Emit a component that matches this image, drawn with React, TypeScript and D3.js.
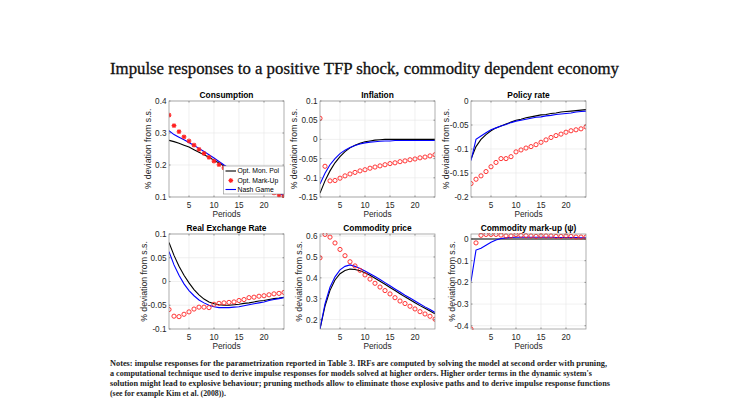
import * as d3 from "d3"

// periods on the horizontal axis
const periods = [1, 2, 3, 4, 5, 6, 7, 8, 9, 10, 11, 12, 13, 14, 15, 16, 17, 18, 19, 20, 21, 22, 23, 24]

// Consumption
const consOpt = [0.277, 0.273, 0.268, 0.262, 0.256, 0.248, 0.24, 0.232, 0.224, 0.215, 0.206, 0.197, 0.188, 0.179, 0.17, 0.162, 0.154, 0.146, 0.138, 0.131, 0.124, 0.117, 0.111, 0.105]
const consMarkup = [0.356, 0.323, 0.304, 0.288, 0.275, 0.262, 0.249, 0.236, 0.224, 0.212, 0.201, 0.191, 0.181, 0.172, 0.163, 0.155, 0.147, 0.14, 0.133, 0.126, 0.119, 0.113, 0.107, 0.102]
const consNash = [0.307, 0.295, 0.287, 0.279, 0.27, 0.261, 0.252, 0.242, 0.232, 0.222, 0.211, 0.2, 0.19, 0.18, 0.171, 0.162, 0.154, 0.146, 0.138, 0.131, 0.124, 0.117, 0.111, 0.105]

// Inflation
const inflOpt = [-0.14, -0.108, -0.082, -0.061, -0.045, -0.032, -0.022, -0.015, -0.01, -0.006, -0.004, -0.002, -0.001, 0, 0, 0, 0, 0, 0, 0, 0, 0, 0, 0]
const inflMarkup = [0.055, -0.07, -0.108, -0.107, -0.101, -0.095, -0.09, -0.086, -0.082, -0.079, -0.075, -0.072, -0.069, -0.066, -0.063, -0.061, -0.058, -0.056, -0.053, -0.051, -0.048, -0.046, -0.043, -0.04]
const inflNash = [-0.116, -0.088, -0.066, -0.05, -0.037, -0.028, -0.021, -0.016, -0.012, -0.009, -0.007, -0.006, -0.005, -0.004, -0.004, -0.003, -0.003, -0.003, -0.003, -0.003, -0.003, -0.003, -0.003, -0.003]

// Policy rate
const rateOpt = [-0.121, -0.095, -0.08, -0.07, -0.062, -0.056, -0.052, -0.048, -0.044, -0.04, -0.038, -0.035, -0.033, -0.031, -0.029, -0.028, -0.026, -0.025, -0.023, -0.022, -0.021, -0.02, -0.019, -0.018]
const rateMarkup = [-0.172, -0.163, -0.156, -0.147, -0.137, -0.128, -0.12, -0.12, -0.116, -0.106, -0.102, -0.098, -0.095, -0.091, -0.086, -0.081, -0.076, -0.072, -0.069, -0.065, -0.062, -0.06, -0.058, -0.054]
const rateNash = [-0.124, -0.08, -0.073, -0.066, -0.06, -0.056, -0.052, -0.049, -0.045, -0.042, -0.04, -0.038, -0.036, -0.034, -0.033, -0.031, -0.03, -0.028, -0.027, -0.026, -0.025, -0.023, -0.022, -0.021]

// Real exchange rate
const rerOpt = [0.082, 0.055, 0.032, 0.013, -0.003, -0.017, -0.028, -0.037, -0.043, -0.047, -0.049, -0.05, -0.05, -0.049, -0.048, -0.046, -0.045, -0.043, -0.041, -0.04, -0.038, -0.036, -0.035, -0.033]
const rerMarkup = [-0.059, -0.073, -0.074, -0.069, -0.064, -0.058, -0.054, -0.054, -0.055, -0.048, -0.046, -0.045, -0.044, -0.043, -0.04, -0.038, -0.034, -0.033, -0.031, -0.03, -0.028, -0.026, -0.025, -0.023]
const rerNash = [0.063, 0.035, 0.013, -0.005, -0.019, -0.03, -0.039, -0.045, -0.05, -0.053, -0.055, -0.055, -0.055, -0.054, -0.053, -0.051, -0.049, -0.047, -0.045, -0.043, -0.04, -0.038, -0.036, -0.034]

// Commodity price
const priceOpt = [0.155, 0.265, 0.34, 0.39, 0.42, 0.435, 0.442, 0.44, 0.434, 0.424, 0.412, 0.398, 0.384, 0.369, 0.354, 0.339, 0.324, 0.309, 0.295, 0.281, 0.267, 0.254, 0.241, 0.228]
const priceMarkup = [0.496, 0.608, 0.595, 0.567, 0.536, 0.506, 0.477, 0.457, 0.436, 0.414, 0.394, 0.374, 0.356, 0.339, 0.323, 0.305, 0.289, 0.277, 0.264, 0.251, 0.238, 0.227, 0.216, 0.202]
const priceNash = [0.155, 0.275, 0.355, 0.405, 0.438, 0.455, 0.462, 0.455, 0.445, 0.433, 0.42, 0.406, 0.392, 0.377, 0.362, 0.347, 0.332, 0.317, 0.303, 0.289, 0.275, 0.261, 0.248, 0.234]

// Commodity mark-up (psi)
const psiOpt = [0, 0, 0, 0, 0, 0, 0, 0, 0, 0, 0, 0, 0, 0, 0, 0, 0, 0, 0, 0, 0, 0, 0, 0]
const psiMarkup = [-0.415, -0.018, 0.017, 0.021, 0.021, 0.021, 0.018, 0.014, 0.014, 0.02, 0.017, 0.015, 0.014, 0.012, 0.015, 0.014, 0.014, 0.012, 0.012, 0.014, 0.012, 0.009, 0.009, 0.009]
const psiNash = [-0.196, -0.051, -0.043, -0.029, -0.015, -0.005, 0.002, 0.005, 0.007, 0.008, 0.008, 0.008, 0.008, 0.008, 0.008, 0.008, 0.008, 0.007, 0.007, 0.007, 0.007, 0.007, 0.006, 0.006]

const xTicks = [5, 10, 15, 20]
const legendLabels = ["Opt. Mon. Pol", "Opt. Mark-Up", "Nash Game"]

const titleText = "Impulse responses to a positive TFP shock, commodity dependent economy"
const noteLines = [
  "Notes: impulse responses for the parametrization reported in Table 3. IRFs are computed by solving the model at second order with pruning,",
  "a computational technique used to derive impulse responses for models solved at higher orders. Higher order terms in the dynamic system's",
  "solution might lead to explosive behaviour; pruning methods allow to eliminate those explosive paths and to derive impulse response functions",
  "(see for example Kim et al. (2008)).",
]

interface Panel {
  title: string
  opt: number[]
  markup: number[]
  nash: number[]
  yDomain: [number, number]
  yTicks: number[]
  marker: "star" | "circle"
  left: number
  top: number
  height: number
  labelGap: number
}

const W = 115
const panels: Panel[] = [
  { title: "Consumption", opt: consOpt, markup: consMarkup, nash: consNash, yDomain: [0.1, 0.4], yTicks: [0.1, 0.2, 0.3, 0.4], marker: "star", left: 169, top: 101, height: 96, labelGap: 21 },
  { title: "Inflation", opt: inflOpt, markup: inflMarkup, nash: inflNash, yDomain: [-0.15, 0.1], yTicks: [-0.15, -0.1, -0.05, 0, 0.05, 0.1], marker: "circle", left: 320, top: 101, height: 96, labelGap: 26 },
  { title: "Policy rate", opt: rateOpt, markup: rateMarkup, nash: rateNash, yDomain: [-0.2, 0], yTicks: [-0.2, -0.15, -0.1, -0.05, 0], marker: "circle", left: 471, top: 101, height: 96, labelGap: 25 },
  { title: "Real Exchange Rate", opt: rerOpt, markup: rerMarkup, nash: rerNash, yDomain: [-0.1, 0.1], yTicks: [-0.1, -0.05, 0, 0.05, 0.1], marker: "circle", left: 169, top: 234, height: 95, labelGap: 25 },
  { title: "Commodity price", opt: priceOpt, markup: priceMarkup, nash: priceNash, yDomain: [0.155, 0.61], yTicks: [0.2, 0.3, 0.4, 0.5, 0.6], marker: "circle", left: 320, top: 234, height: 95, labelGap: 21 },
  { title: "Commodity mark-up (\u03c8)", opt: psiOpt, markup: psiMarkup, nash: psiNash, yDomain: [-0.415, 0.023], yTicks: [-0.4, -0.3, -0.2, -0.1, 0], marker: "circle", left: 471, top: 234, height: 95, labelGap: 19 },
]

const sans = "'Liberation Sans', Arial, sans-serif"
const serif = "'Liberation Serif', 'Times New Roman', serif"
const ink = "#262626"

function starPath(cx: number, cy: number, r: number) {
  const d = r * 0.72
  return `M${cx - r},${cy}H${cx + r}M${cx},${cy - r}V${cy + r}M${cx - d},${cy - d}L${cx + d},${cy + d}M${cx - d},${cy + d}L${cx + d},${cy - d}`
}

function PanelChart({ p, idx }: { p: Panel; idx: number }) {
  const x = d3.scaleLinear().domain([1, 24]).range([p.left, p.left + W])
  const y = d3.scaleLinear().domain(p.yDomain).range([p.top + p.height, p.top])
  const line = d3
    .line<number>()
    .x((_, i) => x(periods[i]))
    .y((d) => y(d))
  const bottom = p.top + p.height
  const clipId = `clip-${idx}`
  return (
    <g>
      <defs>
        <clipPath id={clipId}>
          <rect x={p.left} y={p.top - 1} width={W} height={p.height + 2} />
        </clipPath>
      </defs>
      <rect x={p.left} y={p.top} width={W} height={p.height} fill="#fff" />
      {/* grid */}
      {xTicks.map((t) => (
        <line key={`gx${t}`} x1={x(t)} x2={x(t)} y1={p.top} y2={bottom} stroke="#e6e6e6" strokeWidth={0.6} />
      ))}
      {p.yTicks.map((t) => (
        <line key={`gy${t}`} x1={p.left} x2={p.left + W} y1={y(t)} y2={y(t)} stroke="#e6e6e6" strokeWidth={0.6} />
      ))}
      {/* series */}
      <g clipPath={`url(#${clipId})`}>
        <path d={line(p.opt) ?? ""} fill="none" stroke="#000" strokeWidth={1.1} />
        <path d={line(p.nash) ?? ""} fill="none" stroke="#0000ff" strokeWidth={1.1} />
        {p.markup.map((v, i) =>
          p.marker === "star" ? (
            <path key={i} d={starPath(x(periods[i]), y(v), 2.4)} stroke="#ff2020" strokeWidth={1.1} fill="none" />
          ) : (
            <circle key={i} cx={x(periods[i])} cy={y(v)} r={2.1} fill="none" stroke="#ff2020" strokeWidth={0.9} />
          ),
        )}
      </g>
      {/* ticks */}
      {xTicks.map((t) => (
        <g key={`tx${t}`}>
          <line x1={x(t)} x2={x(t)} y1={bottom} y2={bottom - 1.5} stroke={ink} strokeWidth={0.5} />
          <line x1={x(t)} x2={x(t)} y1={p.top} y2={p.top + 1.5} stroke={ink} strokeWidth={0.5} />
          <text x={x(t)} y={bottom + 11} textAnchor="middle" fontSize={8.2} fill={ink} fontFamily={sans}>
            {t}
          </text>
        </g>
      ))}
      {p.yTicks.map((t) => (
        <g key={`ty${t}`}>
          <line x1={p.left} x2={p.left + 1.5} y1={y(t)} y2={y(t)} stroke={ink} strokeWidth={0.5} />
          <line x1={p.left + W} x2={p.left + W - 1.5} y1={y(t)} y2={y(t)} stroke={ink} strokeWidth={0.5} />
          <text x={p.left - 2.5} y={y(t) + 2.9} textAnchor="end" fontSize={8.2} fill={ink} fontFamily={sans}>
            {String(t)}
          </text>
        </g>
      ))}
      <rect x={p.left} y={p.top} width={W} height={p.height} fill="none" stroke="#8c8c8c" strokeWidth={0.7} />
      {/* labels */}
      <text x={p.left + W / 2} y={p.top - 3} textAnchor="middle" fontSize={8.4} fontWeight="bold" fill="#000" fontFamily={sans}>
        {p.title}
      </text>
      <text x={p.left + W / 2} y={bottom + 20} textAnchor="middle" fontSize={8.3} fill={ink} fontFamily={sans}>
        Periods
      </text>
      <text
        transform={`translate(${p.left - p.labelGap + 2.5},${p.top + p.height / 2}) rotate(-90)`}
        textAnchor="middle"
        fontSize={8.7}
        fill={ink}
        fontFamily={sans}
      >
        % deviation from s.s.
      </text>
    </g>
  )
}

function Legend() {
  const lx = 223.5
  const ly = 166
  const rows = [171, 180.5, 189.5]
  return (
    <g fontFamily={sans} fontSize={6.8} fill="#000">
      <rect x={lx} y={ly} width={284 - lx} height={28} fill="#fff" stroke="#8c8c8c" strokeWidth={0.6} />
      <line x1={225.5} x2={236} y1={rows[0]} y2={rows[0]} stroke="#000" strokeWidth={1.1} />
      <path d={starPath(230.8, rows[1], 2.4)} stroke="#ff2020" strokeWidth={1.1} fill="none" />
      <line x1={225.5} x2={236} y1={rows[2]} y2={rows[2]} stroke="#0000ff" strokeWidth={1.1} />
      {legendLabels.map((l, i) => (
        <text key={l} x={237.5} y={rows[i] + 2.4}>
          {l}
        </text>
      ))}
    </g>
  )
}

export default function App() {
  return (
    <svg width={730} height={410} style={{ position: "absolute", left: 0, top: 0, background: "#fff" }}>
      <rect width={730} height={410} fill="#fff" />
      <text
        x={110}
        y={74}
        fontSize={16}
        fontFamily={serif}
        fill="#111"
        stroke="#111"
        strokeWidth={0.3}
        textLength={509}
        lengthAdjust="spacingAndGlyphs"
      >
        {titleText}
      </text>
      {panels.map((p, i) => (
        <PanelChart key={p.title} p={p} idx={i} />
      ))}
      <Legend />
      {noteLines.map((l, i) => (
        <text
          key={i}
          x={110}
          y={366 + i * 10}
          fontSize={7.8}
          fontWeight="bold"
          fontFamily={serif}
          fill="#222"
          textLength={i < 3 ? [497, 482, 500][i] : undefined}
          lengthAdjust={i < 3 ? "spacingAndGlyphs" : undefined}
        >
          {l}
        </text>
      ))}
    </svg>
  )
}
